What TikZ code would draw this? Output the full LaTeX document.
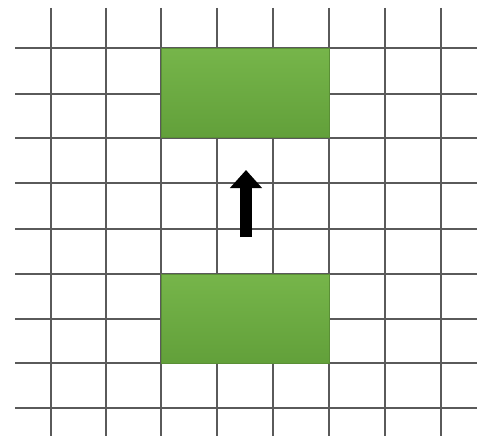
\documentclass[tikz,border=0pt]{standalone}
\usetikzlibrary{arrows.meta}
\definecolor{gridc}{HTML}{5A5A5A}
\definecolor{gtop}{HTML}{76B54A}
\definecolor{gbot}{HTML}{62A03A}
\definecolor{gedge}{HTML}{5A8F36}
\begin{document}
\begin{tikzpicture}[x=1pt,y=-1pt,
  gridline/.style={draw=gridc,line width=1.4pt},
  greenbox/.style={draw=gedge,line width=1pt,top color=gtop,bottom color=gbot,minimum width=168pt,minimum height=89pt,inner sep=0pt,anchor=north west},
  bigarrow/.style={line width=12pt,-{Triangle[width=31pt,length=18pt]}}]
\useasboundingbox[fill=white] (0,0) rectangle (477,436);
\foreach \x in {51,106,161,217,273,329,385,441}
  \draw[gridline] (\x,8) -- (\x,436);
\foreach \y in {48,94,138,183,229,274,319,363,408}
  \draw[gridline] (15,\y) -- (477,\y);
\node[greenbox] (top) at (161,48) {};
\node[greenbox] (bot) at (161,274) {};
\coordinate (a0) at (246,237);
\coordinate (a1) at (246,170);
\draw[bigarrow] (a0) -- (a1);
\end{tikzpicture}
\end{document}
